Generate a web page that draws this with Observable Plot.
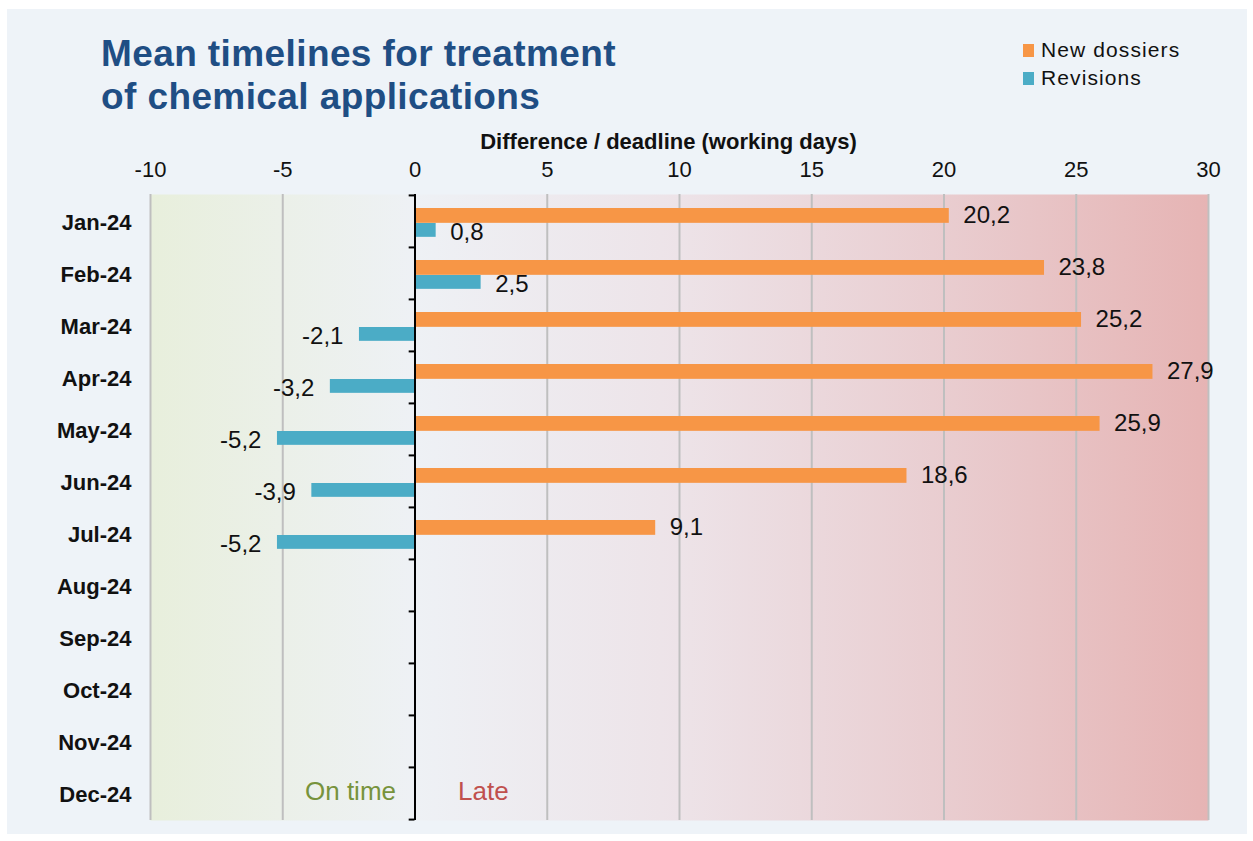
<!DOCTYPE html>
<html>
<head>
<meta charset="utf-8">
<script src="https://cdn.jsdelivr.net/npm/d3@7"></script>
<script src="https://cdn.jsdelivr.net/npm/@observablehq/plot@0.6"></script>
<style>
  html, body { margin: 0; padding: 0; background: #ffffff; }
  body { width: 1253px; height: 841px; position: relative; overflow: hidden; font-family: "Liberation Sans", Arial, sans-serif; }
  #panel { position: absolute; left: 7px; top: 9px; width: 1240px; height: 825px; background: #eef3f8; }
  #chart { position: absolute; left: 0; top: 0; }
  #title { position: absolute; left: 101px; top: 32px; font-size: 37px; font-weight: bold; color: #1f4e84; line-height: 43px; letter-spacing: 0.4px; }
  .leg { position: absolute; left: 1023px; font-size: 21px; letter-spacing: 1.1px; color: #111; display: flex; align-items: center; }
  .leg span.sw { display: inline-block; width: 11px; height: 13px; margin-right: 7px; }
</style>
</head>
<body>
<div id="panel"></div>
<div id="chart"></div>
<div id="title">Mean timelines for treatment<br>of chemical applications</div>
<div class="leg" style="top:38px"><span class="sw" style="background:#f79646"></span>New dossiers</div>
<div class="leg" style="top:66px"><span class="sw" style="background:#4bacc6"></span>Revisions</div>
<script>
const months = ["Jan-24","Feb-24","Mar-24","Apr-24","May-24","Jun-24","Jul-24","Aug-24","Sep-24","Oct-24","Nov-24","Dec-24"];
const newDossiers = [20.2, 23.8, 25.2, 27.9, 25.9, 18.6, 9.1, null, null, null, null, null];
const revisions = [0.8, 2.5, -2.1, -3.2, -5.2, -3.9, -5.2, null, null, null, null, null];
const xTicks = [-10, -5, 0, 5, 10, 15, 20, 25, 30];
const gridValues = [-10, -5, 5, 10, 15, 20, 25, 30];
const axisTitle = "Difference / deadline (working days)";
const zoneOnTime = "On time";
const zoneLate = "Late";

const nd = months.map((m, i) => ({month: m, value: newDossiers[i]})).filter(d => d.value != null);
const rv = months.map((m, i) => ({month: m, value: revisions[i]})).filter(d => d.value != null);
const fmt = d => d.value.toFixed(1).replace(".", ",");

const W = 1253, H = 841, mT = 194, mB = 21, mL = 150, mR = 45;
const rowH = (H - mT - mB) / months.length;

const plot = Plot.plot({
  width: W,
  height: H,
  marginTop: mT,
  marginBottom: mB,
  marginLeft: mL,
  marginRight: mR,
  style: {background: "transparent", color: "#111", fontFamily: "'Liberation Sans', Arial, sans-serif"},
  x: {domain: [-10, 30], label: null},
  y: {domain: months, padding: 0, label: null},
  marks: [
    Plot.frame({fill: "url(#bgGrad)", stroke: null}),
    Plot.ruleX(gridValues, {stroke: "#bfbfbf", strokeWidth: 2}),
    Plot.barX(nd, {x: "value", y: "month", fill: "#f79646", insetTop: 13, insetBottom: rowH - 28}),
    Plot.barX(rv, {x: "value", y: "month", fill: "#4bacc6", insetTop: 28, insetBottom: rowH - 42}),
    Plot.ruleX([0], {stroke: "#000", strokeWidth: 2}),
    Plot.ruleY(months, {y: d => d, x1: -0.22, x2: 0, dy: -rowH / 2, stroke: "#000", strokeWidth: 2}),
    Plot.ruleY([months[months.length - 1]], {y: d => d, x1: -0.22, x2: 0, dy: rowH / 2, stroke: "#000", strokeWidth: 2}),
    Plot.axisX({anchor: "top", ticks: xTicks, tickSize: 0, tickPadding: 18, tickFormat: d => String(d), fontSize: 22, letterSpacing: 0.5, label: null}),
    Plot.axisY({tickSize: 0, tickPadding: 19, fontSize: 22, letterSpacing: 1, fontWeight: "bold", label: null, dy: 1}),
    Plot.text([axisTitle], {frameAnchor: "top", text: d => d, dy: -61, dx: -11, fontSize: 22, letterSpacing: 0.9, fontWeight: "bold", fill: "#111"}),
    Plot.text(nd, {x: "value", y: "month", text: fmt, textAnchor: "start", dx: 14, dy: -6, fontSize: 24, fill: "#111"}),
    Plot.text(rv, {filter: d => d.value >= 0, x: "value", y: "month", text: fmt, textAnchor: "start", dx: 14, dy: 11, fontSize: 24, fill: "#111"}),
    Plot.text(rv, {filter: d => d.value < 0, x: "value", y: "month", text: fmt, textAnchor: "end", dx: -16, dy: 11, fontSize: 24, fill: "#111"}),
    Plot.text([zoneOnTime], {x: () => 0, y: () => months[months.length - 1], text: d => d, textAnchor: "end", dx: -19, dy: -2, fontSize: 26, fill: "#77933c"}),
    Plot.text([zoneLate], {x: () => 0, y: () => months[months.length - 1], text: d => d, textAnchor: "start", dx: 43, dy: -2, fontSize: 26, fill: "#c0504d"})
  ]
});

const NS = "http://www.w3.org/2000/svg";
const defs = document.createElementNS(NS, "defs");
const grad = document.createElementNS(NS, "linearGradient");
grad.setAttribute("id", "bgGrad");
grad.setAttribute("x1", "0"); grad.setAttribute("y1", "0");
grad.setAttribute("x2", "1"); grad.setAttribute("y2", "0");
[["0%", "#e8efdc"], ["25%", "#eef1f5"], ["50%", "#ede3e8"], ["75%", "#e9cdd0"], ["100%", "#e6b4b4"]].forEach(([o, c]) => {
  const s = document.createElementNS(NS, "stop");
  s.setAttribute("offset", o);
  s.setAttribute("stop-color", c);
  grad.appendChild(s);
});
defs.appendChild(grad);
plot.insertBefore(defs, plot.firstChild);
document.getElementById("chart").appendChild(plot);
</script>
</body>
</html>
